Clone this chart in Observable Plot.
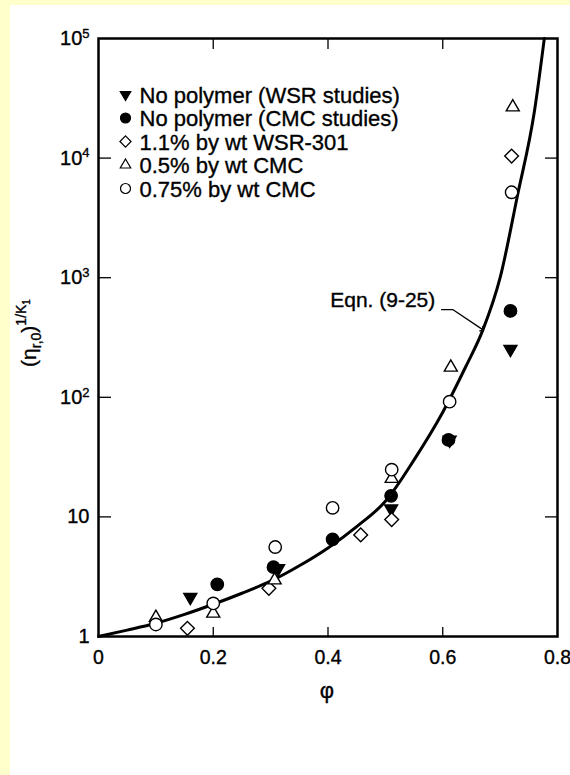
<!DOCTYPE html>
<html><head><meta charset="utf-8">
<script src="https://cdn.jsdelivr.net/npm/d3@7"></script>
<script src="https://cdn.jsdelivr.net/npm/@observablehq/plot@0.6"></script>
<style>
html,body{margin:0;padding:0;background:#ffffcc;}
#page{position:relative;width:570px;height:775px;overflow:hidden;background:#ffffcc;}
#white{position:absolute;left:10px;top:5px;right:0;bottom:0;background:#fff;}
#chart{position:absolute;left:0;top:0;}
#chart svg text{stroke:black;stroke-width:0.35px;}
</style></head><body>
<div id="page"><div id="white"></div><div id="chart"></div></div>
<script>
// ---- data ----
const xTicks = [0, 0.2, 0.4, 0.6, 0.8];
const yTicks = [1, 10, 100, 1000, 10000, 100000];
const yTickLabels = ["1", "10", "10^2", "10^3", "10^4", "10^5"];

const seriesNames = [
  "No polymer (WSR studies)",
  "No polymer (CMC studies)",
  "1.1% by wt WSR-301",
  "0.5% by wt CMC",
  "0.75% by wt CMC"
];

const phiWSR = [0.16, 0.313, 0.51, 0.612, 0.718];
const etaWSR = [2.13, 3.7, 11.7, 44, 253];

const phiCMC = [0.207, 0.305, 0.408, 0.51, 0.61, 0.718];
const etaCMC = [2.73, 3.8, 6.5, 15, 44, 527];

const phiWSR301 = [0.155, 0.297, 0.457, 0.511, 0.72];
const etaWSR301 = [1.17, 2.53, 7.06, 9.5, 10400];

const phiCMC05 = [0.1, 0.2, 0.307, 0.511, 0.614, 0.722];
const etaCMC05 = [1.44, 1.56, 2.96, 20.9, 178, 26700];

const phiCMC075 = [0.1, 0.2, 0.308, 0.408, 0.511, 0.612, 0.72];
const etaCMC075 = [1.26, 1.89, 5.6, 11.9, 24.8, 92, 5180];

// Eqn. (9-25) curve
const curvePhi = [0, 0.05, 0.1, 0.15, 0.2, 0.25, 0.3, 0.35, 0.4, 0.45, 0.5, 0.55, 0.6, 0.64, 0.67, 0.7, 0.73, 0.76, 0.777];
const curveVal = [1, 1.13, 1.29, 1.53, 1.86, 2.3, 2.9, 3.9, 5.5, 8.3, 13.5, 30, 75, 180, 366, 1000, 4800, 25000, 100000];

const eqnLabel = "Eqn. (9-25)";
const eqnLabelPos = [0.587, 650];
const eqnLeaderPhi = [0.598, 0.618, 0.669];
const eqnLeaderVal = [540, 540, 370];

// ---- build tables ----
const pts = (xs, ys) => xs.map((x, i) => ({x, y: ys[i]}));
const curve = pts(curvePhi, curveVal);
const leader = pts(eqnLeaderPhi, eqnLeaderVal);

const styles = [
  {symbol: "triangle2", rotate: 180, fill: "black", stroke: "black"},
  {symbol: "circle", rotate: 0, fill: "black", stroke: "black"},
  {symbol: "diamond2", rotate: 0, fill: "white", stroke: "black"},
  {symbol: "triangle2", rotate: 0, fill: "white", stroke: "black"},
  {symbol: "circle", rotate: 0, fill: "white", stroke: "black"}
];
const seriesData = [
  pts(phiWSR, etaWSR),
  pts(phiCMC, etaCMC),
  pts(phiWSR301, etaWSR301),
  pts(phiCMC05, etaCMC05),
  pts(phiCMC075, etaCMC075)
];

const font = "'Liberation Sans', Arial, Helvetica, sans-serif";

const legendMarks = seriesNames.flatMap((name, i) => [
  Plot.dot([name], {frameAnchor: "top-left", dx: 27, dy: 56 + i * 23.5, r: 5,
    symbol: styles[i].symbol, rotate: styles[i].rotate, fill: styles[i].fill,
    stroke: styles[i].stroke, strokeWidth: 1.2}),
  Plot.text([name], {frameAnchor: "top-left", lineAnchor: "middle", dx: 41, dy: 57 + i * 23.5,
    textAnchor: "start", fontSize: 22, fill: "black"})
]);

const dotMarks = seriesData.map((d, i) => Plot.dot(d, {
  x: "x", y: "y", r: 6.2, symbol: styles[i].symbol, rotate: styles[i].rotate,
  fill: styles[i].fill, stroke: styles[i].stroke, strokeWidth: 1.4
}));

const chart = Plot.plot({
  width: 570,
  height: 775,
  marginLeft: 98,
  marginRight: 13,
  marginTop: 38,
  marginBottom: 139,
  style: {fontFamily: font, fontSize: "20px", background: "transparent", color: "black", overflow: "visible"},
  x: {domain: [0, 0.8]},
  y: {type: "log", domain: [1, 100000]},
  marks: [
    Plot.line(curve, {x: "x", y: "y", curve: "monotone-x", stroke: "black", strokeWidth: 3}),
    ...dotMarks,
    Plot.line(leader, {x: "x", y: "y", stroke: "black", strokeWidth: 1.3, markerEnd: "arrow"}),
    Plot.text([eqnLabel], {x: () => eqnLabelPos[0], y: () => eqnLabelPos[1], textAnchor: "end", fontSize: 21, fill: "black"}),
    ...legendMarks,
    // tick labels
    Plot.axisX(xTicks, {anchor: "bottom", tickSize: 0, tickPadding: 14, tickFormat: d => String(d), label: null, fontSize: 19.5}),
    Plot.axisY(yTicks, {anchor: "left", tickSize: 0, tickPadding: 9, tickFormat: d => yTickLabels[yTicks.indexOf(d)], label: null, fontSize: 20}),
    // inward ticks
    Plot.axisX([0.2, 0.4, 0.6], {anchor: "bottom", tickSize: 9, dy: -9, fill: "none", label: null, strokeWidth: 1.3}),
    Plot.axisX([0.2, 0.4, 0.6], {anchor: "top", tickSize: 10, dy: 10, fill: "none", label: null, strokeWidth: 1.3}),
    Plot.axisY([10, 100, 1000, 10000], {anchor: "left", tickSize: 13, dx: 13, fill: "none", label: null, strokeWidth: 1.3}),
    Plot.axisY([10, 100, 1000, 10000], {anchor: "right", tickSize: 13, dx: -13, fill: "none", label: null, strokeWidth: 1.3}),
    Plot.frame({stroke: "black", strokeWidth: 2.5})
  ]
});

document.getElementById("chart").appendChild(chart);

// superscript exponents on the y tick labels
const svg = d3.select(chart);
svg.selectAll("g[aria-label='y-axis tick label'] text").each(function() {
  const t = d3.select(this);
  const s = t.text();
  if (s.includes("^")) {
    const [base, exp] = s.split("^");
    t.text(base);
    t.append("tspan").attr("dy", "-0.55em").attr("font-size", "13px").text(exp);
  }
});

// y axis title (η_{r,0})^{1/K_1}
const yt = svg.append("text")
  .attr("transform", "translate(36,333) rotate(-90)")
  .attr("text-anchor", "middle")
  .attr("font-family", font)
  .attr("font-size", "21px")
  .attr("fill", "black");
yt.append("tspan").text("(η");
yt.append("tspan").attr("dy", 5).attr("font-size", "14px").text("r,0");
yt.append("tspan").attr("dy", -5).text(")");
yt.append("tspan").attr("dy", -10).attr("font-size", "14px").text("1/K");
yt.append("tspan").attr("dy", 4).attr("font-size", "10px").text("1");

// x axis title φ
svg.append("text")
  .attr("x", 327).attr("y", 698)
  .attr("text-anchor", "middle")
  .attr("font-family", font)
  .attr("font-size", "22px")
  .attr("fill", "black")
  .text("φ");
</script>
</body></html>
